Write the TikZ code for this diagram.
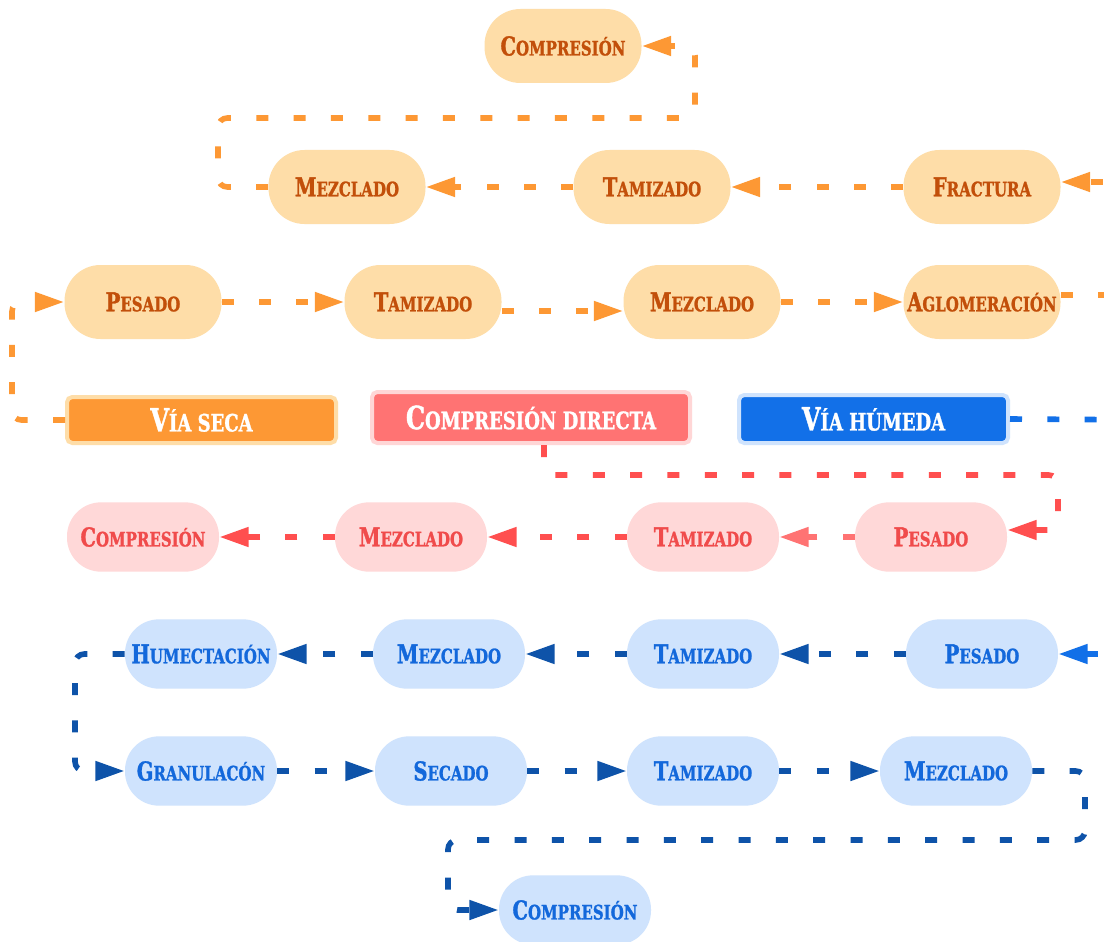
\documentclass[tikz,border=0pt]{standalone}
\usepackage{fontspec}
\newfontfamily\labfont[FakeStretch=0.75, BoldFeatures={FakeBold=1.2}]{DejaVu Serif}
\usetikzlibrary{arrows.meta}
\definecolor{ofill}{HTML}{FEDDA8}
\definecolor{otext}{HTML}{C24F0A}
\definecolor{oline}{HTML}{FD9834}
\definecolor{rfill}{HTML}{FFD8D8}
\definecolor{rtext}{HTML}{F04B4B}
\definecolor{rline}{HTML}{FF4F4F}
\definecolor{rlight}{HTML}{FF7373}
\definecolor{rbord}{HTML}{FFD6D6}
\definecolor{bfill}{HTML}{CFE3FD}
\definecolor{btext}{HTML}{1368DB}
\definecolor{bline}{HTML}{0E53A9}
\definecolor{bbright}{HTML}{1270E8}
\newcommand\pl[2]{{\fontsize{19.5}{19.5}\selectfont#1}{\fontsize{15}{15}\selectfont#2}}
\newcommand\hd[2]{{\fontsize{24}{24}\selectfont#1}{\fontsize{18}{18}\selectfont#2}}
\tikzset{
  pill/.style={font=\labfont\bfseries, inner sep=0pt, align=center},
  opill/.style={pill, fill=ofill, text=otext, minimum width=117.75pt, minimum height=55.5pt, rounded corners=27pt},
  rpill/.style={pill, fill=rfill, text=rtext, minimum width=114pt, minimum height=52pt, rounded corners=25.5pt},
  bpill/.style={pill, fill=bfill, text=btext, minimum width=114pt, minimum height=52pt, rounded corners=25.5pt},
  hdbox/.style={font=\labfont\bfseries, text=white, inner sep=0pt, line width=3pt, rounded corners=4pt},
  conn/.style={line width=4.2pt, dash pattern=on 9pt off 19pt, rounded corners=7pt, -{Triangle[length=22pt,width=14pt]}},
  oconn/.style={conn, draw=oline},
  rconn/.style={conn, draw=rline},
  bconn/.style={conn, draw=bline},
}
\begin{document}
\begin{tikzpicture}[x=0.75pt,y=-0.75pt]
\useasboundingbox[fill=white] (0,0) rectangle (1104,942);
\clip (0,0) rectangle (1104,942);
% dry path
\node[opill] (oc) at (563,46) {\pl{C}{OMPRESIÓN}};
\node[opill] (om2) at (347,187) {\pl{M}{EZCLADO}};
\node[opill] (ot2) at (652,187) {\pl{T}{AMIZADO}};
\node[opill] (of) at (982,187) {\pl{F}{RACTURA}};
\node[opill] (op) at (143,302) {\pl{P}{ESADO}};
\node[opill] (ot3) at (423,302) {\pl{T}{AMIZADO}};
\node[opill] (om3) at (702,302) {\pl{M}{EZCLADO}};
\node[opill] (oa) at (982,302) {\pl{A}{GLOMERACIÓN}};
% headers
\node[hdbox, fill=oline, draw=ofill, minimum width=201.75pt, minimum height=34.5pt] (vs) at (201.5,420) {\hd{V}{ÍA SECA}};
\node[hdbox, fill=rlight, draw=rbord, minimum width=238.5pt, minimum height=38.25pt] (cd) at (531,417.5) {\hd{C}{OMPRESIÓN DIRECTA}};
\node[hdbox, fill=bbright, draw=bfill, minimum width=201.75pt, minimum height=36pt] (vh) at (873.5,419) {\hd{V}{ÍA HÚMEDA}};
% direct compression
\node[rpill] (rp) at (931,537) {\pl{P}{ESADO}};
\node[rpill] (rt) at (703,537) {\pl{T}{AMIZADO}};
\node[rpill] (rm) at (411,537) {\pl{M}{EZCLADO}};
\node[rpill] (rc) at (143,537) {\pl{C}{OMPRESIÓN}};
% wet path
\node[bpill] (bp) at (982,654) {\pl{P}{ESADO}};
\node[bpill] (bt1) at (703,654) {\pl{T}{AMIZADO}};
\node[bpill] (bm1) at (449,654) {\pl{M}{EZCLADO}};
\node[bpill] (bh) at (201,654) {\pl{H}{UMECTACIÓN}};
\node[bpill] (bg) at (201,771) {\pl{G}{RANULACÓN}};
\node[bpill] (bs) at (451,771) {\pl{S}{ECADO}};
\node[bpill] (bt2) at (703,771) {\pl{T}{AMIZADO}};
\node[bpill] (bm2) at (956,771) {\pl{M}{EZCLADO}};
\node[bpill] (bc) at (575,910) {\pl{C}{OMPRESIÓN}};
% dry connectors
\draw[oconn] (vs.west) -| (12,302) -- (op.west);
\draw[oconn] (op.east) -- (ot3.west);
\draw[oconn] ([yshift=-6.75pt]ot3.east) -- ([yshift=-6.75pt]om3.west);
\draw[oconn] (om3.east) -- (oa.west);
\draw[oconn] ([yshift=5.25pt]oa.east) -- (1160,295) -- (1160,182) -- ([yshift=3.75pt]of.east);
\draw[oconn] (of.west) -- (ot2.east);
\draw[oconn] (ot2.west) -- (om2.east);
\draw[oconn] (om2.west) -| (218,118) -| (695,46) -- (oc.east);
% direct connectors
\draw[rconn] ([xshift=9.75pt]cd.south) |- (1058,475) |- ([yshift=5.25pt]rp.east);
\draw[rconn, draw=rlight] (rp.west) -- (rt.east);
\draw[rconn] (rt.west) -- (rm.east);
\draw[rconn] (rm.west) -- (rc.east);
% wet connectors
\draw[bconn, draw=bbright] (vh.east) -- (1165,420) -- (1165,654) -- (bp.east);
\draw[bconn] (bp.west) -- (bt1.east);
\draw[bconn] (bt1.west) -- (bm1.east);
\draw[bconn] (bm1.west) -- (bh.east);
\draw[bconn] (bh.west) -| (75,771) -- (bg.west);
\draw[bconn] (bg.east) -- (bs.west);
\draw[bconn] (bs.east) -- (bt2.west);
\draw[bconn] (bt2.east) -- (bm2.west);
\draw[bconn] (bm2.east) -| (1085,840) -| (448,910) -- (bc.west);
\end{tikzpicture}
\end{document}
